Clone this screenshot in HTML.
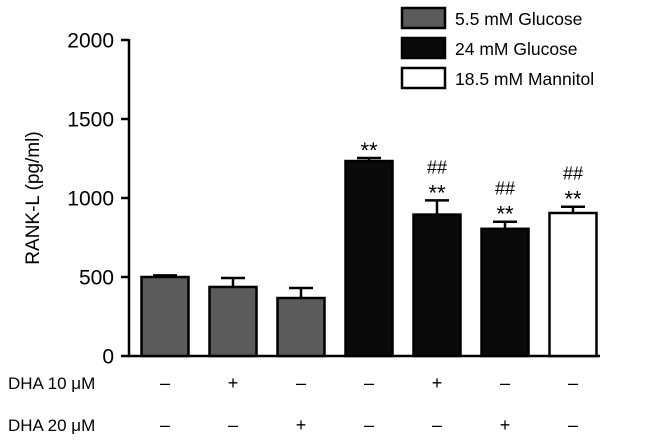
<!DOCTYPE html>
<html><head><meta charset="utf-8"><style>
body{margin:0;background:#fff;}
svg{display:block;font-family:"Liberation Sans",Arial,sans-serif;}
</style></head><body>
<svg id="chart" width="646" height="447">
<g id="axes"></g><g id="bars"></g><g id="legend"></g><g id="table"></g>
</svg>
<script>
const categories=["g55-ctrl","g55-dha10","g55-dha20","g24-ctrl","g24-dha10","g24-dha20","mannitol"];
const values=[500,437,367,1234,895,805,905];
const errors=[10,57,63,19,90,45,40];
const groups=[0,0,0,1,1,1,2];
const marks=["","","","**","##\n**","##\n**","##\n**"];
const dha10=["–","+","–","–","+","–","–"];
const dha20=["–","–","+","–","–","+","–"];
const yTicks=[0,500,1000,1500,2000];
const legendLabels=["5.5 mM Glucose","24 mM Glucose","18.5 mM Mannitol"];
const fills=["#5b5b5b","#0a0a0a","#ffffff"];

const NS="http://www.w3.org/2000/svg";
const y0=356,yTop=40,yMax=2000;
const Y=v=>y0-(v/yMax)*(y0-yTop);
const X=i=>165+i*68;
const bw=47;
function mk(tag,attrs,parent,text){const e=document.createElementNS(NS,tag);for(const k in attrs)e.setAttribute(k,attrs[k]);if(text!==undefined)e.textContent=text;parent.appendChild(e);return e;}
const axes=document.getElementById('axes'),bars=document.getElementById('bars'),legend=document.getElementById('legend'),table=document.getElementById('table');

let a=mk('line',{x1:129,y1:yTop-1,x2:129,y2:y0+1,stroke:'#000','stroke-width':2.5},axes);


a=mk('line',{x1:128,y1:y0,x2:600,y2:y0,stroke:'#000','stroke-width':2.5},axes);


yTicks.forEach(t=>{
  let l=mk('line',{x1:121,y1:Y(t),x2:129,y2:Y(t),stroke:'#000','stroke-width':2.5},axes);
  
  
  let tx=mk('text',{x:114,y:Y(t)+7.5,'text-anchor':'end','font-size':21},axes,String(t));
  
  
});
let yt=mk('text',{x:0,y:0,'font-size':19,'text-anchor':'middle',transform:'translate(39,198) rotate(-90)'},axes,'RANK-L (pg/ml)');



values.forEach((v,i)=>{
  const cx=X(i);
  let e=mk('line',{x1:cx,y1:Y(v),x2:cx,y2:Y(v+errors[i]),stroke:'#000','stroke-width':2.5},bars);
  
  
  let c=mk('line',{x1:cx-12,y1:Y(v+errors[i]),x2:cx+12,y2:Y(v+errors[i]),stroke:'#000','stroke-width':2.5},bars);
  
  
  let r=mk('rect',{x:cx-bw/2,y:Y(v),width:bw,height:y0-Y(v),fill:fills[groups[i]],stroke:'#000','stroke-width':2.5},bars);
  
  
  const lines=marks[i]?marks[i].split('\n'):[];
  lines.forEach((s,k)=>{
    const yy=Y(v+errors[i])-8-(lines.length-1-k)*19 + (s==='**'?8:0);
    let m=mk('text',{x:cx,y:yy,'text-anchor':'middle','font-size':s==='**'?22:18},bars,s);
    
    
  });
  let t1=mk('text',{x:cx,y:389,'text-anchor':'middle','font-size':18},table,dha10[i]);
  
  
  let t2=mk('text',{x:cx,y:431,'text-anchor':'middle','font-size':18},table,dha20[i]);
  
  
});
let r1=mk('text',{x:8,y:389,'font-size':17},table,'DHA 10 μM');


let r2=mk('text',{x:8,y:431,'font-size':17},table,'DHA 20 μM');



legendLabels.forEach((s,i)=>{
  const yy=8+i*30;
  let b=mk('rect',{x:402,y:yy,width:43,height:20,fill:fills[i],stroke:'#000','stroke-width':2.5},legend);
  
  
  let t=mk('text',{x:455,y:yy+17,'font-size':17.5},legend,s);
  
  
});
</script>
</body></html>
